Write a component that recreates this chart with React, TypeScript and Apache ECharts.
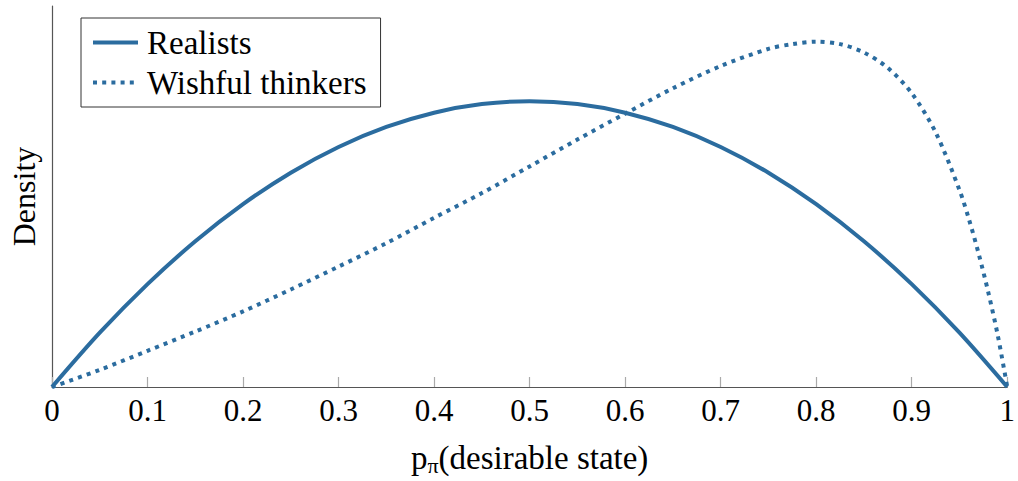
import React, { useEffect, useRef } from "react";
import * as echarts from "echarts";

const xRealists = [0, 0.05, 0.1, 0.15, 0.2, 0.25, 0.3, 0.35, 0.4, 0.45, 0.5, 0.55, 0.6, 0.65, 0.7, 0.75, 0.8, 0.85, 0.9, 0.95, 1];
const yRealists = [0, 0.285, 0.54, 0.765, 0.96, 1.125, 1.26, 1.365, 1.44, 1.485, 1.5, 1.485, 1.44, 1.365, 1.26, 1.125, 0.96, 0.765, 0.54, 0.285, 0];

const xWishful = [0, 0.05, 0.1, 0.15, 0.2, 0.25, 0.3, 0.35, 0.4, 0.45, 0.5, 0.55, 0.6, 0.65, 0.7, 0.75, 0.775, 0.8, 0.825, 0.85, 0.875, 0.9, 0.925, 0.95, 0.96, 0.97, 0.98, 0.99, 1];
const yWishful = [0, 0.09, 0.19, 0.291, 0.397, 0.512, 0.632, 0.755, 0.888, 1.018, 1.158, 1.299, 1.435, 1.568, 1.685, 1.775, 1.8, 1.813, 1.8, 1.756, 1.675, 1.542, 1.337, 1.034, 0.879, 0.701, 0.5, 0.273, 0];

const seriesNames = ["Realists", "Wishful thinkers"];
const xTickMin = 0;
const xTickMax = 1;
const xTickStep = 0.1;

const COLOR = "#2b6c9f";
const FONT = "'Liberation Serif', 'Times New Roman', 'DejaVu Serif', serif";

export default function App() {
  const ref = useRef<HTMLDivElement>(null);
  useEffect(() => {
    if (!ref.current) return;
    const chart = echarts.init(ref.current, null, { renderer: "svg" });
    chart.setOption({
      animation: false,
      textStyle: { fontFamily: FONT, color: "#000" },
      grid: { left: 52, right: 6, top: 6, bottom: 92, containLabel: false },
      legend: {
        left: 81,
        top: 18,
        orient: "vertical",
        backgroundColor: "#fff",
        borderColor: "#333",
        borderWidth: 1,
        padding: [8, 14, 8, 10],
        itemWidth: 45,
        itemHeight: 14,
        itemGap: 7,
        itemStyle: { opacity: 0 },
        lineStyle: { width: 4 },
        textStyle: { fontFamily: FONT, fontSize: 33, color: "#000", lineHeight: 32, padding: [0, 0, 0, 4] },
        data: seriesNames,
      },
      xAxis: {
        type: "value",
        min: xTickMin,
        max: xTickMax,
        interval: xTickStep,
        name: "p{s|π}(desirable state)",
        nameLocation: "middle",
        nameGap: 52,
        nameTextStyle: {
          fontFamily: FONT,
          fontSize: 33,
          color: "#000",
          rich: {
            s: { fontFamily: FONT, fontSize: 22, color: "#000", padding: [15, 0, 0, 0] },
          },
        },
        splitLine: { show: false },
        axisLine: { show: true, lineStyle: { color: "#555", width: 1.2 } },
        axisTick: { show: true, inside: true, length: 10, lineStyle: { color: "#aaa", width: 1.2 } },
        axisLabel: { fontFamily: FONT, fontSize: 31, color: "#000", margin: 8 },
      },
      yAxis: {
        type: "value",
        min: 0,
        max: 2,
        name: "Density",
        nameLocation: "middle",
        nameGap: 12,
        nameTextStyle: { fontFamily: FONT, fontSize: 32, color: "#000" },
        splitLine: { show: false },
        axisLine: { show: true, lineStyle: { color: "#555", width: 1.2 } },
        axisTick: { show: false },
        axisLabel: { show: false },
      },
      series: [
        {
          name: seriesNames[0],
          type: "line",
          data: xRealists.map((x, i) => [x, yRealists[i]]),
          smooth: 0.3,
          showSymbol: false,
          symbol: "none",
          lineStyle: { color: COLOR, width: 4 },
          itemStyle: { color: COLOR },
        },
        {
          name: seriesNames[1],
          type: "line",
          data: xWishful.map((x, i) => [x, yWishful[i]]),
          smooth: 0.3,
          showSymbol: false,
          symbol: "none",
          lineStyle: { color: COLOR, width: 4, type: [4, 5.2], cap: "butt" },
          itemStyle: { color: COLOR },
        },
      ],
    });
    return () => chart.dispose();
  }, []);
  return <div ref={ref} style={{ width: 1018, height: 481, position: "absolute", left: 0, top: 0 }} />;
}
